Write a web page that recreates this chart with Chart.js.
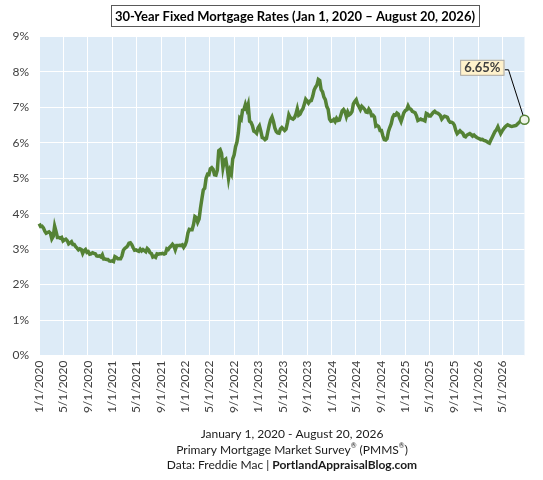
<!DOCTYPE html>
<html>
<head>
<meta charset="utf-8">
<script src="https://cdn.jsdelivr.net/npm/chart.js@4.4.1/dist/chart.umd.min.js"></script>
<style>
  html, body { margin: 0; padding: 0; background: #fff; }
  #wrap { width: 543px; height: 480px; position: relative; }
</style>
</head>
<body>
<div id="wrap"><canvas id="rates"></canvas></div>
<script>
const FONT = "Lato, 'Open Sans', sans-serif";

const chartTitle = "30-Year Fixed Mortgage Rates (Jan 1, 2020 \u2013 August 20, 2026)";
const footerDates = "January 1, 2020 - August 20, 2026";
const footerSurvey = "Primary Mortgage Market Survey";
const footerSource = "Data: Freddie Mac | ";
const footerBlog = "PortlandAppraisalBlog.com";

// weekly PMMS readings, first one on Thursday 2020-01-02
const firstWeek = [2020, 1, 2];
const axisStart = [2020, 1, 1];
const axisEnd = [2026, 8, 20];

const rates2020 = [3.72, 3.64, 3.65, 3.60, 3.51, 3.45, 3.47, 3.49, 3.45, 3.29, 3.36, 3.65, 3.50,
  3.33, 3.33, 3.31, 3.33, 3.23, 3.26, 3.28, 3.24, 3.15, 3.18, 3.21, 3.13, 3.13,
  3.07, 3.03, 2.98, 3.01, 2.99, 2.88, 2.96, 2.99, 2.91, 2.93, 2.86, 2.87, 2.90,
  2.88, 2.87, 2.81, 2.80, 2.81, 2.78, 2.84, 2.72, 2.72, 2.71, 2.71, 2.67, 2.66, 2.67];
const rates2021 = [2.65, 2.79, 2.77, 2.73, 2.73, 2.73, 2.81, 2.97, 3.02, 3.05, 3.09, 3.17,
  3.18, 3.13, 3.04, 2.97, 2.98, 2.96, 2.94, 3.00, 2.95, 2.99, 2.96, 2.93, 3.02,
  2.98, 2.90, 2.88, 2.78, 2.80, 2.77, 2.87, 2.86, 2.87, 2.87, 2.88, 2.86, 2.88, 3.01,
  2.99, 3.05, 3.09, 3.14, 3.09, 2.98, 3.10, 3.10, 3.11, 3.10, 3.12, 3.05, 3.11];
const rates2022 = [3.22, 3.45, 3.56, 3.55, 3.55, 3.69, 3.92, 3.89, 3.76, 3.85, 4.16, 4.42, 4.67,
  4.72, 5.00, 5.11, 5.10, 5.27, 5.30, 5.25, 5.10, 5.09, 5.23, 5.78, 5.81, 5.70,
  5.30, 5.51, 5.54, 5.30, 4.99, 5.22, 5.13, 5.55, 5.66, 5.89, 6.02, 6.29, 6.70,
  6.66, 6.92, 6.94, 7.08, 6.95, 7.08, 6.61, 6.58, 6.49, 6.33, 6.31, 6.27, 6.42];
const rates2023 = [6.48, 6.33, 6.15, 6.13, 6.09, 6.12, 6.32, 6.50, 6.65, 6.73, 6.60, 6.42, 6.32,
  6.28, 6.27, 6.39, 6.43, 6.39, 6.35, 6.39, 6.57, 6.79, 6.71, 6.69, 6.67, 6.71,
  6.81, 6.96, 6.78, 6.81, 6.90, 6.96, 7.09, 7.23, 7.18, 7.12, 7.18, 7.19, 7.31,
  7.49, 7.57, 7.63, 7.79, 7.76, 7.50, 7.44, 7.29, 7.22, 7.03, 6.95, 6.67, 6.61];
const rates2024 = [6.62, 6.66, 6.60, 6.69, 6.63, 6.64, 6.77, 6.90, 6.94, 6.88, 6.74, 6.87, 6.79,
  6.82, 6.88, 7.10, 7.17, 7.22, 7.09, 7.02, 6.94, 7.03, 6.99, 6.95, 6.87, 6.86,
  6.95, 6.89, 6.77, 6.78, 6.73, 6.47, 6.49, 6.46, 6.35, 6.35, 6.20, 6.09, 6.08,
  6.12, 6.32, 6.44, 6.54, 6.72, 6.79, 6.78, 6.84, 6.81, 6.69, 6.60, 6.72, 6.85];
const rates2025 = [6.91, 6.93, 7.04, 6.96, 6.95, 6.89, 6.87, 6.85, 6.76, 6.63, 6.65, 6.67, 6.65,
  6.64, 6.62, 6.83, 6.81, 6.76, 6.76, 6.81, 6.86, 6.89, 6.85, 6.84, 6.81, 6.77,
  6.67, 6.72, 6.75, 6.74, 6.72, 6.63, 6.58, 6.58, 6.56, 6.50, 6.35, 6.26, 6.30,
  6.34, 6.30, 6.27, 6.19, 6.17, 6.22, 6.24, 6.26, 6.23, 6.19, 6.22, 6.18, 6.15];
const rates2026 = [6.13, 6.11, 6.09, 6.10, 6.07, 6.06, 6.04, 6.01, 5.99, 6.08, 6.16, 6.24,
  6.32, 6.37, 6.45, 6.35, 6.26, 6.33, 6.39, 6.44, 6.48, 6.51, 6.49, 6.47, 6.46,
  6.47, 6.48, 6.49, 6.53, 6.57, 6.61, 6.65, 6.68, 6.65];

const tickLabels = ["1/1/2020", "5/1/2020", "9/1/2020", "1/1/2021", "5/1/2021", "9/1/2021",
  "1/1/2022", "5/1/2022", "9/1/2022", "1/1/2023", "5/1/2023", "9/1/2023",
  "1/1/2024", "5/1/2024", "9/1/2024", "1/1/2025", "5/1/2025", "9/1/2025",
  "1/1/2026", "5/1/2026"];

const rateMin = 0;
const rateMax = 9;

function dayNum(y, m, d) {
  return (Date.UTC(y, m - 1, d) - Date.UTC(axisStart[0], axisStart[1] - 1, axisStart[2])) / 86400000;
}
function labelDay(s) {
  const p = s.split("/").map(Number);
  return dayNum(p[2], p[0], p[1]);
}

const allRates = [].concat(rates2020, rates2021, rates2022, rates2023, rates2024, rates2025, rates2026);
const startDay = dayNum(firstWeek[0], firstWeek[1], firstWeek[2]);
const points = allRates.map((v, i) => ({ x: startDay + 7 * i, y: v }));
const lastIdx = points.length - 1;
const tickDays = tickLabels.map(labelDay);

const plotBg = {
  id: "plotBg",
  beforeDraw(chart) {
    const { ctx, chartArea: a } = chart;
    ctx.save();
    ctx.fillStyle = "#DDEBF7";
    ctx.fillRect(a.left, a.top, a.right - a.left, a.bottom - a.top);
    ctx.restore();
  }
};

function drawRuns(ctx, runs, cx, y) {
  let total = 0;
  runs.forEach(r => { ctx.font = r.font; total += ctx.measureText(r.t).width; });
  let x = cx - total / 2;
  runs.forEach(r => {
    ctx.font = r.font;
    ctx.fillText(r.t, x, y + (r.dy || 0));
    x += ctx.measureText(r.t).width;
  });
}

const extras = {
  id: "extras",
  afterDatasetsDraw(chart) {
    const ctx = chart.ctx;
    const meta = chart.getDatasetMeta(0);
    const pt = meta.data[lastIdx];
    ctx.save();
    // callout for the latest rate
    const label = allRates[lastIdx].toFixed(2) + "%";
    ctx.font = "bold 13px " + FONT;
    const bw = ctx.measureText(label).width + 8;
    const bh = 16;
    const bx = pt.x - 20 - bw;
    const by = pt.y - 60;
    const ly = by + 10;
    const dx = pt.x - (bx + bw + 4), dy = pt.y - ly;
    const len = Math.sqrt(dx * dx + dy * dy);
    ctx.strokeStyle = "#000";
    ctx.lineWidth = 1;
    ctx.beginPath();
    ctx.moveTo(bx + bw, ly);
    ctx.lineTo(bx + bw + 4, ly);
    ctx.lineTo(pt.x - dx / len * 5, pt.y - dy / len * 5);
    ctx.stroke();
    ctx.fillStyle = "#FFF2CC";
    ctx.fillRect(bx, by, bw, bh);
    ctx.strokeStyle = "#A6A6A6";
    ctx.strokeRect(bx + 0.5, by + 0.5, bw - 1, bh - 1);
    ctx.fillStyle = "#404040";
    ctx.textAlign = "center";
    ctx.textBaseline = "middle";
    ctx.fillText(label, bx + bw / 2, by + bh / 2 + 0.5);
    ctx.restore();
  },
  afterDraw(chart) {
    const ctx = chart.ctx;
    ctx.save();
    // title in a box
    ctx.font = "bold 13px " + FONT;
    ctx.textBaseline = "middle";
    ctx.textAlign = "left";
    const tw = ctx.measureText(chartTitle).width;
    const cx = 295;
    ctx.fillStyle = "#fff";
    ctx.fillRect(cx - tw / 2 - 4, 5, tw + 8, 22);
    ctx.strokeStyle = "#595959";
    ctx.lineWidth = 1;
    ctx.strokeRect(Math.round(cx - tw / 2 - 4) + 0.5, 5.5, Math.round(tw + 8), 21);
    ctx.fillStyle = "#000";
    ctx.fillText(chartTitle, cx - tw / 2, 16.5);

    // footer
    ctx.fillStyle = "#1a1a1a";
    const reg = "7px " + FONT, norm = "12px " + FONT, bold = "bold 12px " + FONT;
    drawRuns(ctx, [{ t: footerDates, font: norm }], 292, 434);
    drawRuns(ctx, [
      { t: footerSurvey, font: norm },
      { t: "\u00ae", font: reg, dy: -4 },
      { t: " (PMMS", font: norm },
      { t: "\u00ae", font: reg, dy: -4 },
      { t: ")", font: norm }
    ], 292, 450);
    drawRuns(ctx, [
      { t: footerSource, font: norm },
      { t: footerBlog, font: bold }
    ], 292, 465.5);
    ctx.restore();
  }
};

new Chart(document.getElementById("rates"), {
  type: "line",
  data: {
    datasets: [{
      label: "30-Year Fixed",
      data: points,
      borderColor: "#548235",
      borderWidth: 3.5,
      tension: 0,
      clip: false,
      pointRadius: c => c.dataIndex === lastIdx ? 4.5 : 0,
      pointHoverRadius: 0,
      pointBorderColor: "#548235",
      pointBorderWidth: 1.5,
      pointBackgroundColor: "#EEF4E8"
    }]
  },
  options: {
    responsive: true,
    maintainAspectRatio: false,
    animation: false,
    layout: { padding: { top: 36.5, right: 18.5, left: 0, bottom: 0 } },
    plugins: { legend: { display: false }, tooltip: { enabled: false } },
    scales: {
      x: {
        type: "linear",
        min: 0,
        max: dayNum(axisEnd[0], axisEnd[1], axisEnd[2]),
        afterBuildTicks: s => { s.ticks = tickDays.map(v => ({ value: v })); },
        afterFit: s => { s.height = 124.5; },
        ticks: {
          autoSkip: false,
          minRotation: 90,
          maxRotation: 90,
          padding: 5,
          color: "#404040",
          font: { family: FONT, size: 12 },
          callback: v => tickLabels[tickDays.indexOf(v)]
        },
        grid: { color: "#FFFFFF", lineWidth: 1, drawTicks: false },
        border: { display: false }
      },
      y: {
        min: rateMin,
        max: rateMax,
        afterFit: s => { s.width = 39; },
        ticks: {
          stepSize: 1,
          padding: 10,
          color: "#404040",
          font: { family: FONT, size: 12 },
          callback: v => v + "%"
        },
        grid: { color: "#FFFFFF", lineWidth: 1, drawTicks: false },
        border: { display: false }
      }
    }
  },
  plugins: [plotBg, extras]
});
</script>
</body>
</html>
